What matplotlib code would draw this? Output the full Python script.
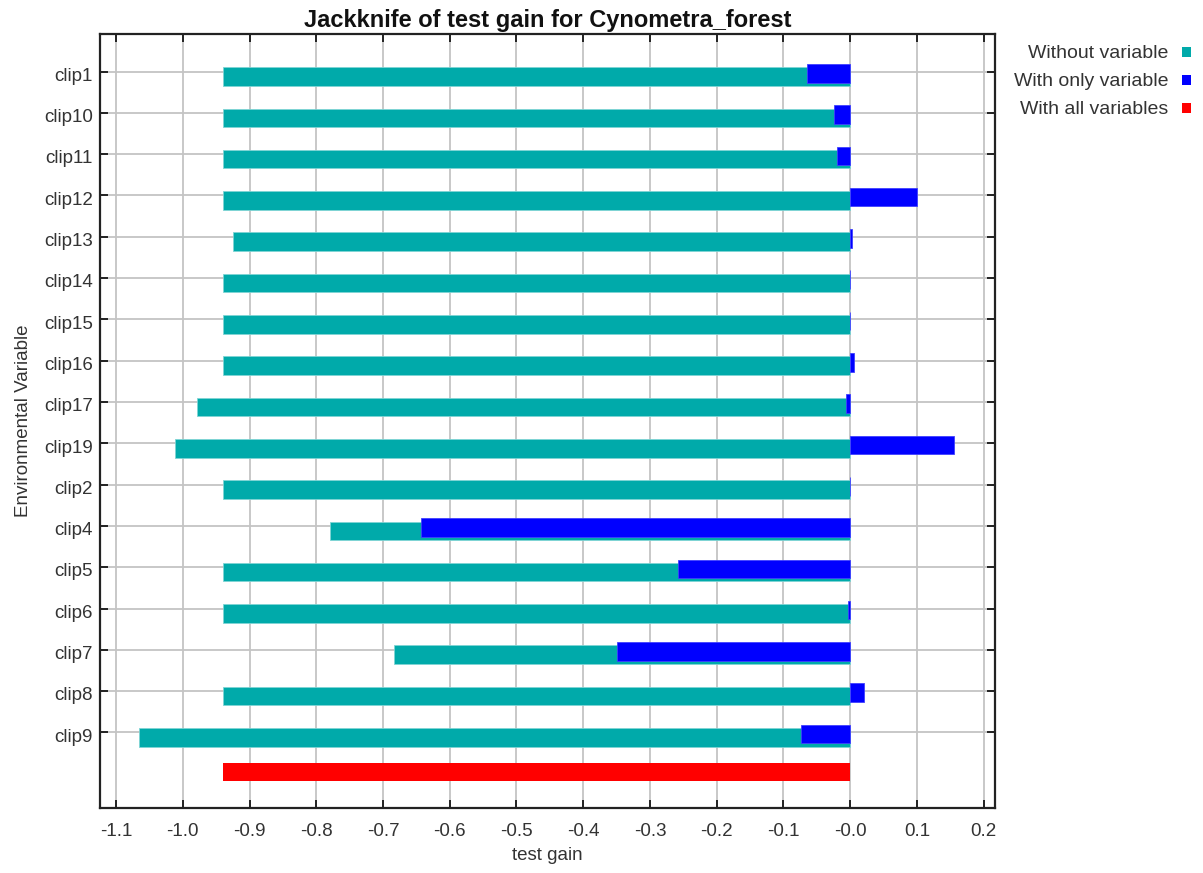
import numpy as np
import matplotlib
matplotlib.use("Agg")
import matplotlib.pyplot as plt
from matplotlib.patches import Rectangle
from matplotlib.transforms import ScaledTranslation

# Jackknife test gain per environmental variable
variables = ["clip1", "clip10", "clip11", "clip12", "clip13", "clip14", "clip15",
             "clip16", "clip17", "clip19", "clip2", "clip4", "clip5", "clip6",
             "clip7", "clip8", "clip9"]
without_variable = [-0.940, -0.940, -0.940, -0.940, -0.925, -0.940, -0.940,
                    -0.940, -0.978, -1.012, -0.940, -0.780, -0.940, -0.940,
                    -0.684, -0.940, -1.066]
with_only_variable = [-0.065, -0.024, -0.019, 0.100, 0.002, 0.000, 0.000,
                      0.005, -0.006, 0.155, 0.000, -0.643, -0.258, -0.003,
                      -0.350, 0.020, -0.074]
with_all_variables = -0.940

x_ticks = [-1.1, -1.0, -0.9, -0.8, -0.7, -0.6, -0.5, -0.4, -0.3, -0.2, -0.1, 0.0, 0.1, 0.2]
x_tick_labels = ["-1.1", "-1.0", "-0.9", "-0.8", "-0.7", "-0.6", "-0.5", "-0.4",
                 "-0.3", "-0.2", "-0.1", "-0.0", "0.1", "0.2"]

legend_labels = ["Without variable", "With only variable", "With all variables"]
TEAL, BLUE, RED = "#00AAAA", "#0000FF", "#FF0000"
TEXT = "#333333"

plt.rcParams["font.family"] = ["Liberation Sans", "DejaVu Sans"]

W, H = 1203, 873
fig = plt.figure(figsize=(W / 100, H / 100), dpi=100)
ax = fig.add_axes([100 / W, 1 - 808 / H, 895 / W, 774 / H])

rows = np.arange(len(variables))
bar_h = 0.45
ax.barh(rows + 0.12, without_variable, height=bar_h, color=TEAL,
        edgecolor="#7fd4d4", linewidth=0.6, zorder=3)
ax.barh(rows + 0.04, with_only_variable, height=bar_h, color=BLUE,
        edgecolor="#4040ff", linewidth=0.6, zorder=4)
ax.barh([len(variables) - 0.04], [with_all_variables], height=bar_h, color=RED,
        linewidth=0, zorder=3)

ax.set_xlim(-1.124, 0.217)
ax.set_ylim(17.83, -0.91)
ax.set_xticks(x_ticks, x_tick_labels)
ax.set_yticks(rows, variables)

ax.grid(True, color="#c4c4c4", linewidth=1.3, zorder=0)
ax.set_axisbelow(True)
ax.tick_params(direction="in", length=6, width=1.4, top=True, right=True,
               labelsize=13.5, labelcolor=TEXT, color="#222222")
ax.tick_params(axis="x", pad=11)
ax.tick_params(axis="y", pad=5)
# nudge the category labels slightly below their grid lines
shift = ScaledTranslation(0, -2 / 72, fig.dpi_scale_trans)
for lbl in ax.get_yticklabels():
    lbl.set_transform(lbl.get_transform() + shift)
for s in ax.spines.values():
    s.set_linewidth(1.6)
    s.set_color("#222222")

ax.set_title("Jackknife of test gain for Cynometra_forest", fontsize=17,
             fontweight="bold", color="#111111", pad=5)
ax.set_xlabel("test gain", fontsize=13.5, color=TEXT, labelpad=5)
ax.set_ylabel("Environmental Variable", fontsize=13.5, color=TEXT, labelpad=9)

# legend: right-aligned labels with small colour squares
legend_colors = [TEAL, BLUE, RED]
legend_y = [53, 81, 109]
for lab, col, yy in zip(legend_labels, legend_colors, legend_y):
    fig.text(1168 / W, 1 - yy / H, lab, ha="right", va="center",
             fontsize=14, color=TEXT)
    fig.add_artist(Rectangle((1182 / W, 1 - (yy + 4) / H), 9 / W, 10 / H,
                             transform=fig.transFigure, facecolor=col,
                             edgecolor="none"))

fig.savefig("out.png", dpi=100)
